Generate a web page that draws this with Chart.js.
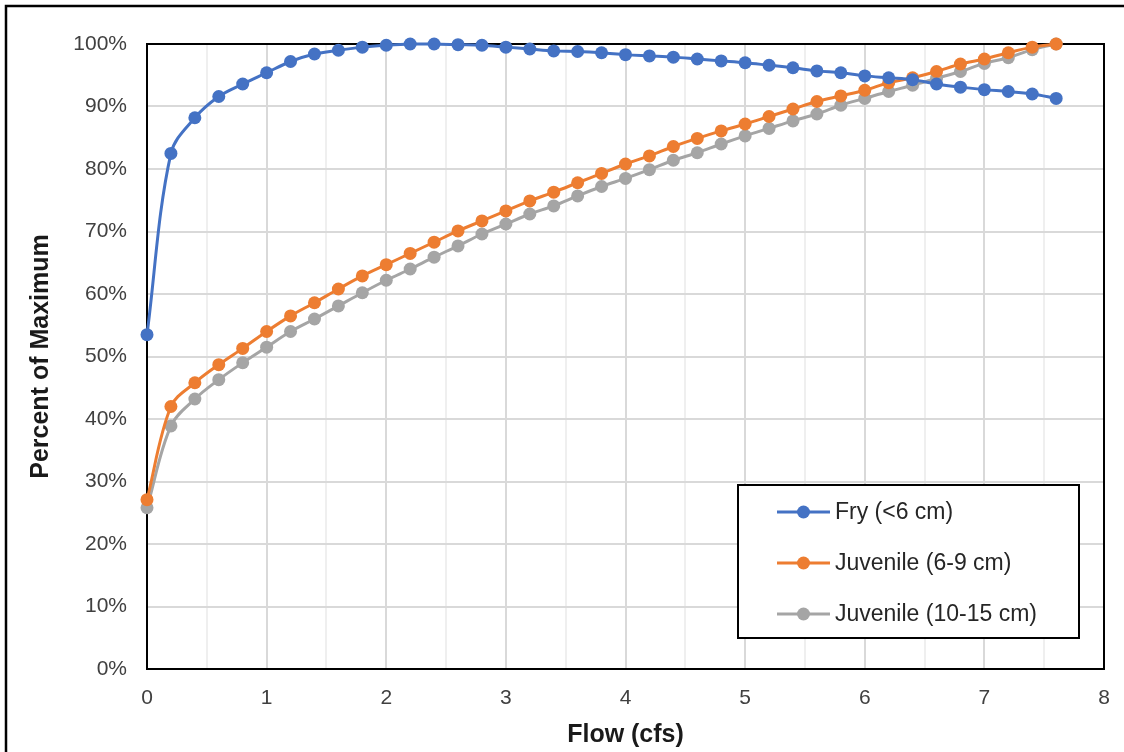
<!DOCTYPE html>
<html>
<head>
<meta charset="utf-8">
<script src="https://cdn.jsdelivr.net/npm/chart.js@4"></script>
<style>
  html, body { margin: 0; padding: 0; background: #fff; }
  canvas { display: block; }
</style>
</head>
<body>
<canvas id="flowChart" width="1124" height="752"></canvas>
<script>
// flow values (cfs) and percent of maximum for each life stage
const flows = [0, 0.2, 0.4, 0.6, 0.8, 1, 1.2, 1.4, 1.6, 1.8, 2, 2.2, 2.4, 2.6, 2.8, 3, 3.2, 3.4, 3.6, 3.8,
  4, 4.2, 4.4, 4.6, 4.8, 5, 5.2, 5.4, 5.6, 5.8, 6, 6.2, 6.4, 6.6, 6.8, 7, 7.2, 7.4, 7.6];
const fry = [53.5, 82.5, 88.2, 91.6, 93.6, 95.4, 97.2, 98.4, 99.0, 99.5, 99.8, 100, 100, 99.9, 99.8, 99.5, 99.2, 98.9, 98.8, 98.6,
  98.3, 98.1, 97.9, 97.6, 97.3, 97.0, 96.6, 96.2, 95.7, 95.4, 94.9, 94.6, 94.3, 93.6, 93.1, 92.7, 92.4, 92.0, 91.3];
const juv69 = [27.1, 42.0, 45.8, 48.7, 51.3, 54.0, 56.5, 58.6, 60.8, 62.9, 64.7, 66.5, 68.3, 70.1, 71.7, 73.3, 74.9, 76.3, 77.8, 79.3,
  80.8, 82.1, 83.6, 84.9, 86.1, 87.2, 88.4, 89.6, 90.8, 91.7, 92.6, 93.8, 94.6, 95.6, 96.8, 97.6, 98.6, 99.5, 100];
const juv1015 = [25.8, 38.9, 43.2, 46.3, 49.0, 51.5, 54.0, 56.0, 58.1, 60.2, 62.2, 64.0, 65.9, 67.7, 69.6, 71.2, 72.8, 74.1, 75.7, 77.2,
  78.5, 79.9, 81.4, 82.6, 84.0, 85.3, 86.5, 87.7, 88.8, 90.2, 91.3, 92.4, 93.4, 94.5, 95.6, 96.9, 97.8, 99.1, 100];
const seriesNames = ['Fry (<6 cm)', 'Juvenile (6-9 cm)', 'Juvenile (10-15 cm)'];
const seriesColors = ['#4472C4', '#ED7D31', '#A5A5A5'];

const FONT = "'Liberation Sans', Arial, sans-serif";

function makeSet(i, values) {
  return {
    label: seriesNames[i],
    data: flows.map((f, k) => ({ x: f, y: values[k] })),
    borderColor: seriesColors[i],
    backgroundColor: seriesColors[i],
    borderWidth: 3,
    pointRadius: 6.5,
    pointHoverRadius: 6.5,
    pointBorderWidth: 0,
    tension: 0.35,
    clip: false
  };
}

// plot frame + outer frame + boxed legend
const frames = {
  id: 'frames',
  beforeDatasetsDraw(chart) {
    const { ctx, chartArea: a } = chart;
    ctx.save();
    ctx.strokeStyle = '#000';
    ctx.lineWidth = 2;
    ctx.strokeRect(a.left, a.top, a.right - a.left, a.bottom - a.top);
    ctx.restore();
  },
  afterDraw(chart) {
    const { ctx } = chart;
    ctx.save();
    // outer chart border (only top/left visible in the crop)
    ctx.strokeStyle = '#000';
    ctx.lineWidth = 2.5;
    ctx.beginPath();
    ctx.moveTo(6, 760);
    ctx.lineTo(6, 6);
    ctx.lineTo(1130, 6);
    ctx.stroke();

    // legend box
    const bx = 738, by = 485, bw = 341, bh = 153;
    ctx.fillStyle = '#fff';
    ctx.fillRect(bx, by, bw, bh);
    ctx.lineWidth = 2;
    ctx.strokeRect(bx, by, bw, bh);
    ctx.font = '23px ' + FONT;
    ctx.textBaseline = 'middle';
    chart.data.datasets.forEach((ds, i) => {
      const y = 512 + i * 51;
      ctx.strokeStyle = ds.borderColor;
      ctx.lineWidth = 3;
      ctx.beginPath();
      ctx.moveTo(777, y);
      ctx.lineTo(830, y);
      ctx.stroke();
      ctx.fillStyle = ds.borderColor;
      ctx.beginPath();
      ctx.arc(803.5, y, 6.5, 0, Math.PI * 2);
      ctx.fill();
      ctx.fillStyle = '#262626';
      ctx.fillText(ds.label, 835, y + 1);
    });
    ctx.restore();
  }
};

new Chart(document.getElementById('flowChart').getContext('2d'), {
  type: 'line',
  data: {
    datasets: [makeSet(0, fry), makeSet(1, juv69), makeSet(2, juv1015)]
  },
  options: {
    responsive: false,
    animation: false,
    layout: { padding: { top: 44, right: 20, left: 0, bottom: 0 } },
    plugins: {
      legend: { display: false },
      tooltip: { enabled: false }
    },
    scales: {
      x: {
        type: 'linear',
        min: 0,
        max: 8,
        afterFit: s => { s.height = 83; s.paddingLeft = 0; s.paddingRight = 0; },
        ticks: {
          stepSize: 0.5,
          autoSkip: false,
          maxRotation: 0,
          padding: 17,
          color: '#404040',
          font: { family: FONT, size: 21 },
          callback: v => Number.isInteger(v) ? String(v) : ''
        },
        grid: {
          drawTicks: false,
          lineWidth: 2,
          color: c => (c.tick && Number.isInteger(c.tick.value)) ? '#d9d9d9' : '#efefef'
        },
        border: { display: false },
        title: {
          display: true,
          text: 'Flow (cfs)',
          color: '#1a1a1a',
          font: { family: FONT, size: 25, weight: 'bold' },
          padding: { top: 0, bottom: 2 }
        }
      },
      y: {
        min: 0,
        max: 100,
        afterFit: s => { s.width = 147; s.paddingTop = 0; s.paddingBottom = 0; },
        ticks: {
          stepSize: 10,
          padding: 20,
          color: '#404040',
          font: { family: FONT, size: 21 },
          callback: v => v + '%'
        },
        grid: {
          drawTicks: false,
          lineWidth: 2,
          color: '#d9d9d9'
        },
        border: { display: false },
        title: {
          display: true,
          text: 'Percent of Maximum',
          color: '#1a1a1a',
          font: { family: FONT, size: 25, weight: 'bold' },
          padding: { top: 26, bottom: 0 }
        }
      }
    }
  },
  plugins: [frames]
});
</script>
</body>
</html>
